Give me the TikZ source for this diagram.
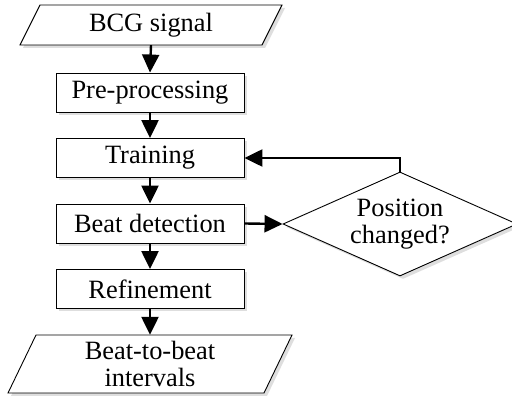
\documentclass[tikz,border=0pt]{standalone}
\usepackage{fontspec}
\setmainfont{Liberation Serif}
\usetikzlibrary{shapes.geometric,arrows.meta,shadows}
\tikzset{
  shad/.style={drop shadow={shadow xshift=3pt, shadow yshift=-3pt, fill=black!13, opacity=1}},
  procbox/.style={draw, line width=0.9pt, fill=white, shad, rectangle, minimum width=188pt, minimum height=39pt, inner sep=0pt},
  iopath/.style={draw, line width=0.9pt, fill=white, shad},
  iotext/.style={rectangle, inner sep=0pt, align=center},
  decbox/.style={draw, line width=0.9pt, fill=white, shad, diamond, inner sep=0pt, minimum width=234pt, minimum height=104pt, shape aspect=2.25, align=center},
  arr/.style={line width=2.4pt, -{Triangle[length=18pt,width=17pt]}},
  txt/.style={font=\fontsize{26.4}{27.5}\selectfont}
}
\begin{document}
\begin{tikzpicture}[x=1pt,y=-1pt]
\useasboundingbox (0,0) rectangle (512,398);
\path[iopath] (40,5) -- (282,5) -- (262,45) -- (20,45) -- cycle;
\node[iotext, txt, minimum width=240pt, minimum height=40pt] (bcg) at (151,25) {BCG signal};
\node[procbox, txt] (pre) at (150,92.5) {Pre-processing};
\node[procbox, txt] (train) at (150,158) {Training};
\node[procbox, txt] (beat) at (150,223.5) {Beat detection};
\node[procbox, txt] (ref) at (150,289) {Refinement};
\path[iopath] (36,335) -- (292,335) -- (264,393) -- (8,393) -- cycle;
\node[iotext, txt, minimum width=250pt, minimum height=58pt] (out) at (150,364) {Beat-to-beat\\intervals};
\node[decbox, txt] (dec) at (400,224) {Position\\changed?};
\draw[arr] (bcg.south) -- (pre.north);
\draw[arr] (pre.south) -- (train.north);
\draw[arr] (train.south) -- (beat.north);
\draw[arr] (beat.south) -- (ref.north);
\draw[arr] (ref.south) -- (out.north);
\draw[arr] (beat.east) -- (dec.west);
\draw[arr] (dec.north) |- (train.east);
\end{tikzpicture}
\end{document}
